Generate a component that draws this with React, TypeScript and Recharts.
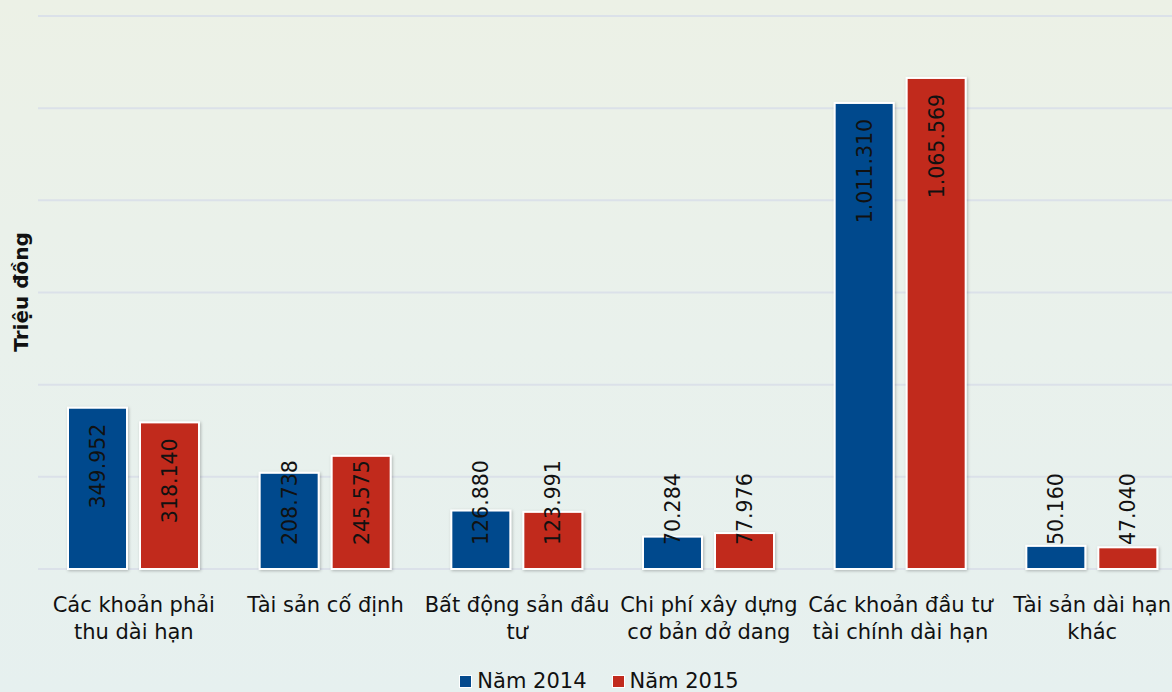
import React from 'react';
import { BarChart, Bar, XAxis, YAxis, CartesianGrid, LabelList } from 'recharts';

const categories = [
  'Các khoản phải\nthu dài hạn',
  'Tài sản cố định',
  'Bất động sản đầu\ntư',
  'Chi phí xây dựng\ncơ bản dở dang',
  'Các khoản đầu tư\ntài chính dài hạn',
  'Tài sản dài hạn\nkhác',
];
const values2014 = [349952, 208738, 126880, 70284, 1011310, 50160];
const values2015 = [318140, 245575, 123991, 77976, 1065569, 47040];
const yTicks = [0, 200000, 400000, 600000, 800000, 1000000, 1200000];
const seriesNames = ['Năm 2014', 'Năm 2015'];

const BLUE = '#044a8d';
const RED = '#c12b1e';
const FONT = "'DejaVu Sans', Verdana, sans-serif";

const data = categories.map((name, i) => ({
  name,
  y2014: values2014[i],
  y2015: values2015[i],
}));

const fmt = (v: number) => String(v).replace(/\B(?=(\d{3})+(?!\d))/g, '.');

let ctx: CanvasRenderingContext2D | null = null;
function textWidth(s: string, font: string) {
  if (!ctx) ctx = document.createElement('canvas').getContext('2d');
  if (!ctx) return s.length * 12;
  ctx.font = font;
  return ctx.measureText(s).width;
}

const VAL_FS = 20.5;

function ValueLabel(props: any) {
  const { x, y, width, height, value } = props;
  const cx = x + width / 2;
  const base = y + height;
  const s = fmt(value);
  const len = textWidth(s, `${VAL_FS}px ${FONT}`);
  let bottom = y + 16 + len;
  if (bottom > base - 24) bottom = base - 24;
  return (
    <text
      transform={`translate(${cx}, ${bottom}) rotate(-90)`}
      textAnchor="start"
      dy={VAL_FS * 0.36}
      fontSize={VAL_FS}
      fontFamily={FONT}
      fill="#111"
    >
      {s}
    </text>
  );
}

function CategoryTick(props: any) {
  const { x, y, payload } = props;
  const lines = String(payload.value).split('\n');
  return (
    <text x={x} y={y} textAnchor="middle" fontSize={21} fontFamily={FONT} fill="#111">
      {lines.map((l, i) => (
        <tspan key={i} x={x} y={y + 43 + i * 27}>
          {l}
        </tspan>
      ))}
    </text>
  );
}

function BarShape(props: any) {
  const { x, y, width, height, fill } = props;
  if (!height || height <= 0) return null;
  return (
    <rect
      x={x}
      y={y}
      width={width}
      height={height}
      fill={fill}
      stroke="#ffffff"
      strokeWidth={2}
      filter="url(#barShadow)"
    />
  );
}

export default function App() {
  return (
    <div
      style={{
        position: 'absolute',
        left: 0,
        top: 0,
        width: 1172,
        height: 692,
        overflow: 'hidden',
        background: 'linear-gradient(180deg, #ecf1e6 0%, #e9f1ec 50%, #e6f0ef 100%)',
        fontFamily: FONT,
      }}
    >
      <BarChart
        width={1188}
        height={692}
        data={data}
        margin={{ top: 16, right: 0, left: 38, bottom: 53 }}
        barGap={13}
        barSize={59}
      >
        <defs>
          <filter id="barShadow" x="-20%" y="-20%" width="140%" height="140%">
            <feDropShadow dx="1" dy="1" stdDeviation="1.5" floodColor="#000" floodOpacity="0.25" />
          </filter>
        </defs>
        <CartesianGrid vertical={false} stroke="#dbe1e9" strokeWidth={2} />
        <XAxis
          dataKey="name"
          axisLine={false}
          tickLine={false}
          tickSize={0}
          tickMargin={0}
          height={70}
          interval={0}
          tick={<CategoryTick />}
        />
        <YAxis hide domain={[0, 1200000]} ticks={yTicks} />
        <Bar dataKey="y2014" fill={BLUE} shape={<BarShape />} isAnimationActive={false}>
          <LabelList dataKey="y2014" content={<ValueLabel />} />
        </Bar>
        <Bar dataKey="y2015" fill={RED} shape={<BarShape />} isAnimationActive={false}>
          <LabelList dataKey="y2015" content={<ValueLabel />} />
        </Bar>
      </BarChart>
      <div
        style={{
          position: 'absolute',
          left: 21,
          top: 292,
          transform: 'translate(-50%, -50%) rotate(-90deg)',
          fontWeight: 'bold',
          fontSize: 20,
          color: '#111',
          whiteSpace: 'nowrap',
        }}
      >
        Triệu đồng
      </div>
      <div
        style={{
          position: 'absolute',
          left: 13,
          width: 1172,
          top: 668,
          display: 'flex',
          justifyContent: 'center',
          gap: 25,
          fontSize: 21,
          color: '#111',
          lineHeight: '26px',
        }}
      >
        {seriesNames.map((n, i) => (
          <div key={n} style={{ display: 'flex', alignItems: 'center' }}>
            <span
              style={{
                display: 'inline-block',
                width: 11,
                height: 11,
                background: i === 0 ? BLUE : RED,
                border: '1px solid #fff',
                marginRight: 5,
              }}
            />
            {n}
          </div>
        ))}
      </div>
    </div>
  );
}
